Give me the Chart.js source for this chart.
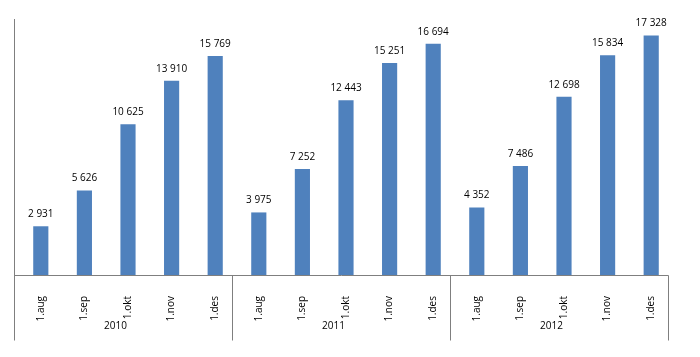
<!DOCTYPE html>
<html><head><meta charset="utf-8">
<script src="https://cdn.jsdelivr.net/npm/chart.js@4"></script>
<style>html,body{margin:0;padding:0;background:#fff}#wrap{width:700px;height:357px}</style>
</head><body><div id="wrap"><canvas id="c"></canvas></div>
<script>
const years = ['2010', '2011', '2012'];
const months = ['1.aug', '1.sep', '1.okt', '1.nov', '1.des'];
const values2010 = [2931, 5626, 10625, 13910, 15769];
const values2011 = [3975, 7252, 12443, 15251, 16694];
const values2012 = [4352, 7486, 12698, 15834, 17328];
const Y_MIN = -720;
const Y_MAX = 18590;

const labels = [];
years.forEach(() => months.forEach(m => labels.push(m)));
const values = [].concat(values2010, values2011, values2012);
const FONT = '"Open Sans", sans-serif';

function fmt(v) { return String(v).replace(/\B(?=(\d{3})+(?!\d))/g, ' '); }

const deco = {
  id: 'deco',
  afterDraw(chart) {
    const ctx = chart.ctx, xs = chart.scales.x, ys = chart.scales.y, ca = chart.chartArea;
    const n = months.length;
    const seps = [];
    for (let g = 0; g <= years.length; g++) seps.push(Math.round(xs.getPixelForValue(g * n - 0.5) - 5) + 0.5);
    const yb = Math.round(ys.getPixelForValue(Y_MIN)) + 0.5;
    ctx.save();
    ctx.strokeStyle = '#7f7f7f';
    ctx.lineWidth = 1;
    ctx.beginPath();
    ctx.moveTo(seps[0], yb); ctx.lineTo(seps[seps.length - 1], yb);
    seps.forEach((x, g) => { ctx.moveTo(x, g === 0 ? Math.round(ca.top) : yb); ctx.lineTo(x, yb + 65); });
    ctx.stroke();
    ctx.fillStyle = '#000';
    ctx.font = '10px ' + FONT;
    ctx.textAlign = 'center';
    ctx.textBaseline = 'middle';
    years.forEach((y, g) => ctx.fillText(y, (seps[g] + seps[g + 1]) / 2 - 8, yb + 51));
    ctx.textBaseline = 'alphabetic';
    const meta = chart.getDatasetMeta(0);
    meta.data.forEach((el, i) => ctx.fillText(fmt(values[i]), el.x, el.y - 9.5));
    ctx.restore();
  }
};

new Chart(document.getElementById('c'), {
  type: 'bar',
  data: { labels: labels, datasets: [{ data: values, backgroundColor: '#4f81bd', base: Y_MIN, barThickness: 14.5 }] },
  options: {
    responsive: true, maintainAspectRatio: false, animation: false,
    layout: { padding: { left: 19, right: 27, top: 19, bottom: 0 } },
    plugins: { legend: { display: false }, tooltip: { enabled: false } },
    scales: {
      x: {
        offset: true,
        grid: { display: false }, border: { display: false },
        ticks: { color: '#000', font: { family: FONT, size: 10 }, minRotation: 90, maxRotation: 90, padding: 13, autoSkip: false },
        afterFit(s) { s.height = 82; }
      },
      y: { display: false, min: Y_MIN, max: Y_MAX }
    }
  },
  plugins: [deco]
});
</script></body></html>
